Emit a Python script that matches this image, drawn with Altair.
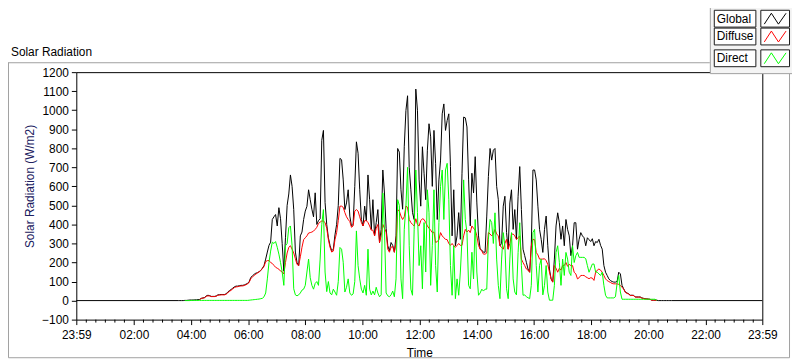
import altair as alt
import pandas as pd

# ---------------------------------------------------------------- data ----
# Readings at a regular sampling interval
# (first sample 03:33, one sample every ~3.46 minutes), in W/m2.
START_MIN = 213.0      # minutes after midnight of the first sample
STEP_MIN = 3.463       # sampling interval in minutes

global_wm2 = [
    0, 0, 0, 0, 1, 1, 2, 3, 3, 3, 4, 4, 5, 6, 12, 14, 16, 25, 28, 26,
    22, 22, 22, 24, 30, 31, 32, 32, 32, 35, 45, 52, 58, 65, 72, 76, 76, 78, 80, 80,
    82, 86, 90, 100, 122, 130, 138, 144,
    146, 152, 158, 170, 184, 218, 255, 290, 307, 426, 440, 452, 392, 488, 430, 300, 155, 330, 500, 560,
    660, 600, 478, 255, 200, 184, 340, 360, 426, 470, 495, 582, 530, 480, 440, 566, 400, 420, 430, 842,
    894, 515, 400, 330, 290, 262, 270, 345,
    400, 500, 747, 740, 634, 478, 513, 582, 444, 392, 400, 600, 834, 774, 582, 426, 392, 496, 420, 660,
    530, 374, 530, 340, 410, 478, 305, 374, 686, 565, 380, 288, 262, 305, 290, 254, 340, 799, 780, 582,
    480, 808, 998, 1076, 700, 582, 462, 426,
    1111, 1000, 634, 496, 808, 669, 530, 790, 929, 860, 600, 894, 721, 426, 634, 738, 981, 1033, 894, 946,
    981, 704, 340, 582, 288, 340, 462, 322, 669, 964, 960, 912, 634, 392, 669, 565, 756, 513, 340, 270,
    265, 254, 254, 444, 652, 799, 738, 790,
    799, 600, 530, 288, 300, 496, 548, 357, 270, 513, 582, 374, 478, 322, 548, 704, 478, 270, 236, 201,
    166, 149, 288, 686, 686, 634, 496, 374, 322, 253, 374, 444, 288, 166, 114, 97, 218, 392, 461, 409,
    322, 392, 288, 426, 374, 340, 236, 288,
    409, 409, 270, 322, 357, 340, 330, 288, 330, 320, 310, 325, 288, 310, 305, 322, 290, 270, 184, 149,
    132, 114, 105, 100, 97, 97, 100, 149, 140, 80, 62, 45, 40, 36, 28, 28, 28, 19, 19, 19,
    19, 14, 12, 10, 9, 8, 7, 2, 2, 2, 2, 0, 0, 0, 0, 0, 0, 0, 0, 0,
]

diffuse_wm2 = [
    None, None, None, None, None, None, None, None, None, None, None, None, None, 6, 11, 13, 15, 22, 25, 24,
    21, 21, 21, 23, 28, 29, 30, 30, 30, 33, 41, 48, 54, 61, 68, 72, 73, 75, 77, 77,
    79, 83, 87, 96, 116, 124, 132, 138,
    146, 150, 158, 168, 180, 205, 210, 210, 200, 195, 185, 175, 170, 165, 155, 150, 140, 200, 250, 280,
    288, 270, 250, 220, 190, 184, 230, 280, 320, 330, 340, 355, 357, 360, 365, 374, 385, 405, 412, 418,
    418, 410, 380, 320, 280, 255, 260, 320,
    357, 420, 496, 496, 490, 462, 440, 426, 415, 385, 392, 470, 478, 470, 440, 410, 392, 420, 420, 410,
    392, 370, 370, 340, 380, 400, 305, 340, 400, 380, 360, 270, 254, 280, 285, 254, 300, 478, 470, 444,
    426, 440, 496, 490, 426, 410, 400, 392,
    430, 400, 392, 420, 430, 426, 410, 392, 380, 370, 357, 360, 305, 310, 320, 357, 340, 330, 322, 320,
    300, 290, 300, 288, 280, 290, 300, 290, 290, 340, 374, 360, 370, 357, 392, 380, 370, 340, 290, 270,
    260, 244, 244, 250, 357, 350, 340, 350,
    374, 350, 340, 288, 280, 270, 300, 322, 270, 300, 348, 350, 340, 322, 330, 340, 218, 200, 184, 166,
    160, 149, 288, 322, 320, 253, 240, 218, 218, 218, 220, 210, 190, 150, 114, 97, 184, 170, 149, 170,
    160, 184, 184, 200, 180, 190, 184, 184,
    149, 140, 114, 120, 132, 132, 132, 125, 120, 115, 120, 118, 106, 149, 160, 166, 160, 149, 132, 114,
    105, 100, 95, 90, 88, 88, 88, 85, 80, 70, 60, 43, 38, 34, 27, 27, 26, 18, 18, 18,
    18, 13, 11, 9, 8, 7, 6, 2, 2, 2, 2, None, None, None, None, None, None, None, None, None,
]

direct_wm2 = [
    None, None, None, None, 0, 0, 0, 0, 1, 1, 1, 1, 1, 1, 1, 1, 1, 1, 1, 1,
    1, 1, 1, 1, 1, 1, 1, 1, 1, 1, 1, 1, 1, 1, 1, 1, 1, 1, 1, 1,
    1, 1, 1, 2, 3, 4, 5, 6,
    7, 8, 10, 12, 20, 40, 114, 200, 260, 307, 300, 310, 280, 244, 200, 150, 80, 288, 300, 383,
    392, 288, 62, 30, 25, 30, 40, 55, 60, 80, 150, 218, 120, 80, 60, 90, 100, 80, 218, 400,
    478, 150, 47, 100, 40, 30, 60, 45,
    28, 100, 279, 270, 201, 45, 70, 114, 40, 28, 35, 100, 366, 184, 114, 60, 40, 80, 28, 270,
    60, 30, 50, 30, 70, 40, 20, 30, 565, 374, 40, 25, 20, 30, 50, 20, 114, 530, 500, 114,
    10, 374, 496, 700, 288, 60, 28, 374,
    686, 462, 184, 288, 62, 410, 150, 582, 462, 80, 288, 582, 184, 45, 410, 600, 686, 426, 686, 721,
    530, 184, 28, 288, 10, 114, 28, 150, 322, 634, 426, 357, 80, 62, 254, 114, 426, 150, 28, 40,
    60, 50, 60, 60, 322, 426, 410, 300,
    461, 218, 80, 10, 218, 357, 288, 62, 10, 218, 357, 114, 45, 30, 253, 409, 184, 28, 30, 20,
    15, 10, 80, 357, 374, 184, 45, 184, 218, 30, 80, 184, 45, 2, 2, 2, 80, 253, 288, 201,
    80, 218, 132, 253, 218, 149, 132, 288,
    200, 236, 253, 227, 227, 227, 227, 220, 184, 149, 170, 192, 192, 150, 149, 140, 132, 149, 80, 28,
    14, 14, 14, 14, 14, 20, 90, 132, 45, 7, 7, 7, 7, 7, 7, 7, 7, 7, 7, 7,
    7, 7, 7, 7, 7, 7, 7, 7, 7, 7, 2, None, None, None, None, None, None, None, None, None,
]

SERIES = ["Global", "Diffuse", "Direct"]
COLORS = ["#000000", "#ff0000", "#00ff00"]

DAY_START = -1      # 23:59 of the previous day
DAY_END = 1439      # 23:59
X_MAJOR = [-1, 120, 240, 360, 480, 600, 720, 840, 960, 1080, 1200, 1320, 1439]
X_MINOR = [m for m in range(20, 1440, 20) if m % 120 != 0]
Y_TICKS = [-100, 0, 100, 200, 300, 400, 500, 600, 700, 800, 900, 1000, 1100, 1200]

# ------------------------------------------------------------- table ----
rows = []
for name, vals in zip(SERIES, [global_wm2, diffuse_wm2, direct_wm2]):
    for i, v in enumerate(vals):
        if v is not None:
            rows.append({"series": name, "minute": START_MIN + STEP_MIN * i, "wm2": v})
rows.append({"series": "Global", "minute": DAY_START, "wm2": 0})
rows.append({"series": "Global", "minute": DAY_END, "wm2": 0})
df = pd.DataFrame(rows)

FONT = "Liberation Sans"
ONE = pd.DataFrame({"k": [0]})

xscale = alt.Scale(domain=[DAY_START, DAY_END], nice=False, zero=False)
yscale = alt.Scale(domain=[-100, 1200], nice=False, zero=False)

label_expr = ("datum.value < 0 || datum.value > 1400 ? '23:59' : "
              "(datum.value < 600 ? '0' : '') + format(datum.value / 60, 'd') + ':00'")

x_axis = alt.Axis(values=X_MAJOR, labelExpr=label_expr, tickSize=5, tickColor="black",
                  labelPadding=5, domain=False, grid=False, labelFont=FONT, labelFontSize=12,
                  labelColor="black", labelOverlap=False, labelFlush=False, title="Time",
                  titleFont=FONT, titleFontSize=12, titleFontWeight="normal", titleColor="black",
                  titleY=37, titleBaseline="alphabetic")
y_axis = alt.Axis(values=Y_TICKS, format="d", tickSize=5, tickColor="black", labelPadding=3,
                  domain=False, grid=False, labelFont=FONT, labelFontSize=12, labelColor="black",
                  labelOverlap=False, title="Solar Radiation (W/m2)", titleFont=FONT,
                  titleFontSize=12, titleFontWeight="normal", titleColor="#202060",
                  titleX=-40, titleY=115, titleBaseline="bottom", titleAlign="center")

X_ENC = alt.X("minute:Q", scale=xscale, axis=x_axis)
Y_ENC = alt.Y("wm2:Q", scale=yscale, axis=y_axis)

layers = []
for name, color in zip(SERIES, COLORS):
    layers.append(
        alt.Chart(df).transform_filter(alt.datum.series == name)
        .mark_line(color=color, strokeWidth=1, interpolate="linear")
        .encode(x=X_ENC, y=Y_ENC)
    )

minor = alt.Chart(pd.DataFrame({"minute": X_MINOR})).mark_rule(color="black", strokeWidth=1).encode(
    x=X_ENC, y=alt.value(250), y2=alt.value(253))
layers.append(minor)


def rule(x1, x2, y1, y2, color="#a0a0a0"):
    return alt.Chart(ONE).mark_rule(color=color, strokeWidth=1).encode(
        x=alt.value(x1), x2=alt.value(x2), y=alt.value(y1), y2=alt.value(y2))


def box(x1, x2, y1, y2, fill, stroke):
    return alt.Chart(ONE).mark_rect(fill=fill, stroke=stroke, strokeWidth=1).encode(
        x=alt.value(x1), x2=alt.value(x2), y=alt.value(y1), y2=alt.value(y2))


def text(x, y, s, **kw):
    return alt.Chart(ONE).mark_text(font=FONT, fontSize=12, color="black", **kw).encode(
        x=alt.value(x), y=alt.value(y), text=alt.value(s))


# panel frame and caption (coordinates relative to the plot's top-left corner)
deco = [
    rule(-69, 640, -9.5, -9.5),
    rule(-68.5, -68.5, -9.5, 288.5),
    rule(-68.5, 720.5, 288.5, 288.5),
    rule(720.5, 720.5, 1.5, 288.5),
    text(-66, -16, "Solar Radiation", align="left", baseline="alphabetic"),
    box(640.5, 730, -70, 1.5, "#f4f4f4", "#a0a0a0"),
]

ZIGZAG = "M-1,0.5L-0.35,-0.5L0.3,0.5L1,-0.5"
legend_tops = [-62.5, -44.5, -22.5]
for name, color, top in zip(SERIES, COLORS, legend_tops):
    mid = top + 8.5
    deco += [
        box(644.5, 686.5, top, top + 17, "#ffffff", "#1a1a1a"),
        text(647, mid, name, align="left", baseline="middle"),
        box(691.5, 720.5, top, top + 17, "#ffffff", "#1a1a1a"),
        alt.Chart(ONE).mark_point(shape=ZIGZAG, size=484, filled=False, stroke=color,
                                  strokeWidth=1, opacity=1).encode(
            x=alt.value(706), y=alt.value(mid)),
    ]

chart = alt.layer(*layers, *deco).properties(
    width=693, height=250,
    padding={"left": 69, "top": 63, "right": 30, "bottom": 40},
    autosize=alt.AutoSizeParams(type="none"),
    background="white",
).configure_view(stroke="black", strokeWidth=1)

chart.save("out.html", embed_options={"renderer": "svg", "actions": False})
